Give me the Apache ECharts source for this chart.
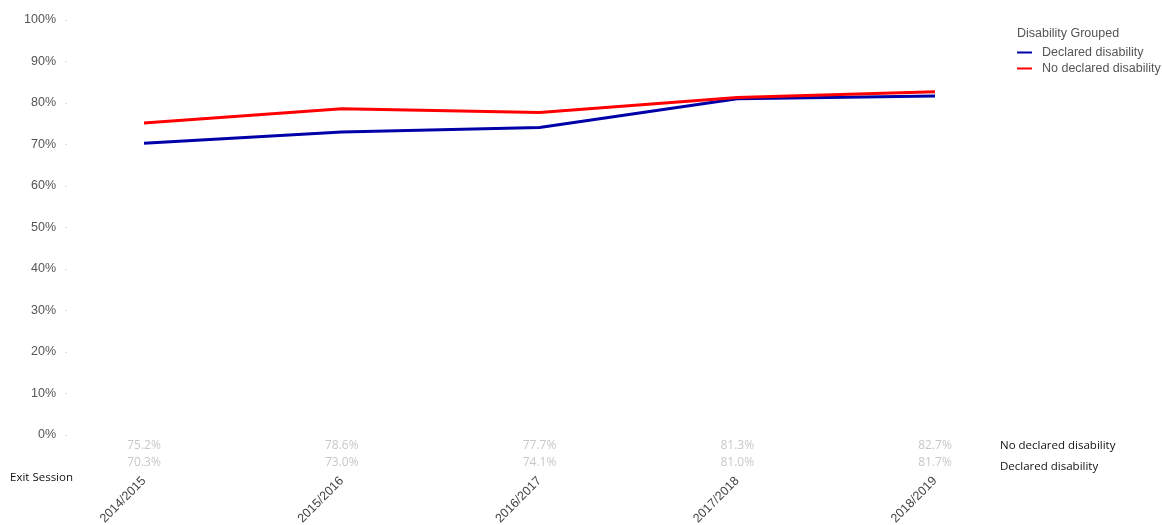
<!DOCTYPE html>
<html>
<head>
<meta charset="utf-8">
<script src="https://cdn.jsdelivr.net/npm/echarts@6/dist/echarts.min.js"></script>
<style>html,body{margin:0;padding:0;background:#fff}#c{width:1162px;height:525px}</style>
</head>
<body>
<div id="c"></div>
<script>
var categories = ['2014/2015','2015/2016','2016/2017','2017/2018','2018/2019'];
var declared = [70.3, 73.0, 74.1, 81.0, 81.7];
var noDeclared = [75.2, 78.6, 77.7, 81.3, 82.7];
var yTicks = [0,10,20,30,40,50,60,70,80,90,100];

var chart = echarts.init(document.getElementById('c'), null, {renderer:'canvas'});
var tableFont = 'Open Sans, Liberation Sans, sans-serif';
chart.setOption({
  animation:false,
  backgroundColor:'#fff',
  title:{text:'Disability Grouped', left:1012, top:22,
    textStyle:{fontSize:12.5, fontWeight:'normal', color:'#555', fontFamily:'Liberation Sans, Arial, sans-serif'}},
  legend:{orient:'vertical', left:1012, top:41, itemWidth:15, itemHeight:2, itemGap:3, icon:'rect',
    textStyle:{fontSize:12.5, color:'#555', fontFamily:'Liberation Sans, Arial, sans-serif', padding:[0,0,0,5]},
    data:['Declared disability','No declared disability']},
  grid:{left:144, right:227, top:20, bottom:90, containLabel:false, outerBoundsMode:'none'},
  xAxis:[{
    type:'category', data:categories, boundaryGap:false, position:'bottom', offset:41,
    axisLine:{show:false}, axisTick:{show:false},
    axisLabel:{rotate:45, margin:3, fontSize:12.5, color:'#444', fontFamily:'Liberation Sans, Arial, sans-serif', interval:0}
  },{
    type:'category', data:categories, boundaryGap:false, position:'bottom', offset:0,
    axisLine:{show:false}, axisTick:{show:false},
    axisLabel:{margin:2, interval:0, fontSize:12, lineHeight:17, color:'#c8c8c8', fontFamily:tableFont,
      formatter:function(v, i){ return noDeclared[i].toFixed(1)+'%\n'+declared[i].toFixed(1)+'%'; }}
  }],
  yAxis:{type:'value', min:0, max:100, interval:10, offset:77,
    axisLine:{show:false},
    axisTick:{show:true, length:2, lineStyle:{color:'#ddd'}},
    splitLine:{show:false},
    axisLabel:{margin:11, fontSize:12.5, color:'#555', fontFamily:'Liberation Sans, Arial, sans-serif',
      formatter:function(v){ return v+'%'; }}
  },
  graphic:[
    {type:'text', left:10, top:472, style:{text:'Exit Session', fill:'#111', font:'11.5px Open Sans, sans-serif'}},
    {type:'text', left:1000, top:440, style:{text:'No declared disability', fill:'#111', font:'11.5px Open Sans, sans-serif'}},
    {type:'text', left:1000, top:461, style:{text:'Declared disability', fill:'#111', font:'11.5px Open Sans, sans-serif'}}
  ],
  series:[
    {name:'Declared disability', type:'line', xAxisIndex:0, data:declared, showSymbol:false, symbol:'none',
      itemStyle:{color:'#0000a8'}, lineStyle:{width:3, color:'#0000a8'}},
    {name:'No declared disability', type:'line', xAxisIndex:0, data:noDeclared, showSymbol:false, symbol:'none',
      itemStyle:{color:'#ff0000'}, lineStyle:{width:3, color:'#ff0000'}}
  ]
});
</script>
</body>
</html>
